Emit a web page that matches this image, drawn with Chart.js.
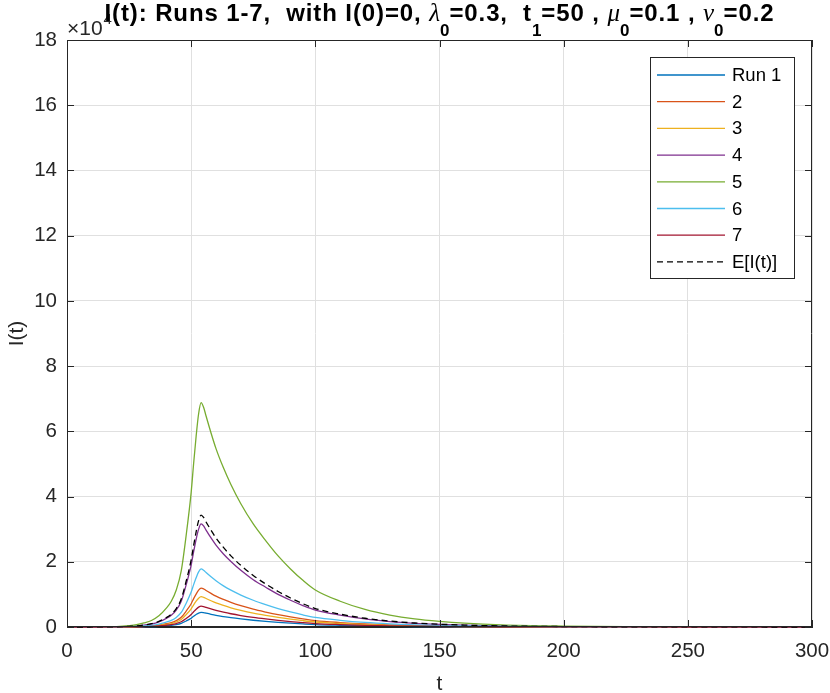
<!DOCTYPE html>
<html>
<head>
<meta charset="utf-8">
<script src="https://cdn.jsdelivr.net/npm/chart.js@4.4.1/dist/chart.umd.min.js"></script>
<style>
html,body{margin:0;padding:0;background:#fff;}
#wrap{width:830px;height:693px;position:relative;}
</style>
</head>
<body>
<div id="wrap"><canvas id="c" width="830" height="693"></canvas></div>
<script>
// ---- data (values in units of 10^4) ----
const tValues = [0,10,20,25,28,31,34,37,40,42,44,46,48,50,51,52,53,54,55,56,58,60,63,66,70,75,80,85,90,95,100,110,120,130,140,150,160,175,200,225,250,300];

const run1 = [0,0.0001,0.0009,0.0027,0.0045,0.0081,0.013,0.0225,0.038,0.052,0.074,0.113,0.185,0.27,0.329,0.383,0.428,0.45,0.441,0.423,0.389,0.358,0.32,0.286,0.248,0.207,0.173,0.143,0.117,0.094,0.074,0.052,0.035,0.024,0.016,0.011,0.0077,0.0043,0.0018,0.0007,0.0003,0];
const run2 = [0,0.0004,0.0024,0.007,0.012,0.021,0.035,0.06,0.1,0.137,0.196,0.298,0.488,0.714,0.87,1.01,1.13,1.19,1.17,1.12,1.03,0.946,0.845,0.756,0.655,0.547,0.458,0.377,0.308,0.248,0.196,0.137,0.093,0.063,0.043,0.03,0.02,0.011,0.0048,0.0018,0.0007,0.0001];
const run3 = [0,0.0003,0.0019,0.0056,0.0093,0.0167,0.027,0.0465,0.078,0.107,0.153,0.233,0.381,0.558,0.679,0.79,0.884,0.93,0.911,0.874,0.804,0.739,0.66,0.59,0.512,0.428,0.358,0.295,0.241,0.193,0.153,0.107,0.073,0.049,0.033,0.023,0.016,0.0088,0.0037,0.0014,0.0006,0.0001];
const run4 = [0,0.001,0.006,0.019,0.032,0.057,0.092,0.158,0.265,0.363,0.521,0.79,1.3,1.9,2.31,2.69,3.0,3.16,3.1,2.97,2.73,2.51,2.24,2.01,1.74,1.45,1.22,1.0,0.82,0.657,0.52,0.363,0.246,0.167,0.114,0.079,0.054,0.03,0.013,0.005,0.002,0.0003];
const run5 = [0,0.002,0.014,0.041,0.069,0.124,0.2,0.344,0.578,0.79,1.135,1.72,2.82,4.13,5.02,5.85,6.54,6.88,6.74,6.47,5.95,5.47,4.88,4.37,3.78,3.16,2.65,2.18,1.78,1.43,1.135,0.79,0.537,0.365,0.248,0.172,0.117,0.065,0.028,0.01,0.004,0.0007];
const run6 = [0,0.0005,0.0036,0.011,0.018,0.032,0.052,0.089,0.15,0.205,0.294,0.445,0.73,1.07,1.3,1.51,1.69,1.78,1.74,1.67,1.54,1.42,1.26,1.13,0.98,0.82,0.685,0.564,0.461,0.37,0.294,0.205,0.139,0.094,0.064,0.045,0.03,0.017,0.007,0.0027,0.001,0.0002];
const run7 = [0,0.0002,0.0013,0.0038,0.0064,0.0115,0.0186,0.032,0.054,0.074,0.106,0.16,0.262,0.384,0.467,0.544,0.608,0.64,0.627,0.602,0.554,0.509,0.454,0.406,0.352,0.294,0.246,0.203,0.166,0.133,0.106,0.074,0.05,0.034,0.023,0.016,0.011,0.006,0.0026,0.001,0.0004,0.0001];
const expected = [0,0.001,0.007,0.021,0.034,0.062,0.1,0.172,0.288,0.394,0.566,0.858,1.41,2.06,2.5,2.92,3.26,3.43,3.36,3.22,2.97,2.73,2.44,2.18,1.89,1.58,1.32,1.09,0.89,0.713,0.566,0.394,0.268,0.182,0.123,0.086,0.058,0.033,0.014,0.005,0.002,0.0003];

const seriesLabels = ['Run 1','2','3','4','5','6','7','E[I(t)]'];
const seriesColors = ['#0072BD','#D95319','#EDB120','#7E2F8E','#77AC30','#4DBEEE','#A2142F','#000000'];
const seriesValues = [run1,run2,run3,run4,run5,run6,run7,expected];

const xTicks = [0,50,100,150,200,250,300];
const yTicks = [0,2,4,6,8,10,12,14,16,18];

const AX = '#262626';
const FONT = '"Liberation Sans", Arial, Helvetica, sans-serif';

const datasets = seriesValues.map((vals, i) => ({
  label: seriesLabels[i],
  data: vals.map((v, k) => ({x: tValues[k], y: v})),
  borderColor: seriesColors[i],
  backgroundColor: seriesColors[i],
  borderWidth: 1.3,
  borderDash: i === 7 ? [6,4] : [],
  pointRadius: 0,
  cubicInterpolationMode: 'monotone',
  fill: false,
  clip: false,
  order: 8 - i
}));

const decorPlugin = {
  id: 'decor',
  afterDraw(chart) {
    const ctx = chart.ctx;
    const a = chart.chartArea;
    const xs = chart.scales.x, ys = chart.scales.y;
    ctx.save();
    // box
    ctx.strokeStyle = AX;
    ctx.lineWidth = 1;
    ctx.beginPath();
    ctx.moveTo(a.left, a.top + 0.5); ctx.lineTo(a.right, a.top + 0.5);
    ctx.moveTo(a.right - 0.5, a.top); ctx.lineTo(a.right - 0.5, a.bottom);
    ctx.moveTo(a.left + 0.5, a.top); ctx.lineTo(a.left + 0.5, a.bottom);
    ctx.moveTo(a.left, a.bottom - 0.5); ctx.lineTo(a.right, a.bottom - 0.5);
    ctx.stroke();
    // inward ticks
    ctx.beginPath();
    xTicks.forEach(v => {
      const px = Math.round(xs.getPixelForValue(v)) + 0.5;
      ctx.moveTo(px, a.bottom); ctx.lineTo(px, a.bottom - 7);
      ctx.moveTo(px, a.top); ctx.lineTo(px, a.top + 7);
    });
    yTicks.forEach(v => {
      const py = Math.round(ys.getPixelForValue(v)) + 0.5;
      ctx.moveTo(a.left, py); ctx.lineTo(a.left + 7, py);
      ctx.moveTo(a.right, py); ctx.lineTo(a.right - 7, py);
    });
    ctx.stroke();

    // exponent label
    ctx.fillStyle = AX;
    ctx.textBaseline = 'alphabetic';
    ctx.textAlign = 'left';
    ctx.font = '21px ' + FONT;
    ctx.fillText('\u00d710', 67, 35);
    const w10 = ctx.measureText('\u00d710').width;
    ctx.font = '15px ' + FONT;
    ctx.fillText('4', 67 + w10 + 1, 24);

    // axis titles
    ctx.font = '21px ' + FONT;
    ctx.textAlign = 'center';
    ctx.fillText('t', (a.left + a.right) / 2, 690);
    ctx.save();
    ctx.translate(23, (a.top + a.bottom) / 2);
    ctx.rotate(-Math.PI / 2);
    ctx.fillText('I(t)', 0, 0);
    ctx.restore();

    // title with subscripts
    const segs = [
      {t:'I(t): Runs 1-7,  with I(0)=0, '},
      {t:'\u03bb', it:true},{t:'0', sub:true},
      {t:'=0.3,  t'},{t:'1', sub:true},
      {t:'=50 , '},
      {t:'\u03bc', it:true},{t:'0', sub:true},
      {t:'=0.1 , '},
      {t:'\u03bd', it:true},{t:'0', sub:true},
      {t:'=0.2'}
    ];
    const fMain = 'bold 24px ' + FONT;
    const fIt = 'italic 25px "Liberation Serif", "DejaVu Serif", serif';
    const fSub = 'bold 17px ' + FONT;
    const fontOf = s => s.sub ? fSub : (s.it ? fIt : fMain);
    let total = 0;
    segs.forEach(s => { ctx.font = fontOf(s); s.w = ctx.measureText(s.t).width; total += s.w; });
    const nChars = segs.reduce((n, s) => n + (s.sub || s.it ? 0 : s.t.length), 0);
    const sp = Math.max(0, (670 - total) / nChars);
    total = 0;
    segs.forEach(s => { total += s.w + (s.sub || s.it ? 0 : sp * s.t.length); });
    let x = (a.left + a.right) / 2 - total / 2;
    ctx.textAlign = 'left';
    ctx.fillStyle = '#000';
    segs.forEach(s => {
      ctx.font = fontOf(s);
      if (s.sub || s.it) {
        ctx.fillText(s.t, x, s.sub ? 36 : 21);
        x += s.w;
      } else {
        for (const ch of s.t) {
          ctx.fillText(ch, x, 21);
          x += ctx.measureText(ch).width + sp;
        }
      }
    });

    // legend
    const lx = 650.5, ly = 57.5, lw = 144, lh = 221;
    ctx.fillStyle = '#ffffff';
    ctx.fillRect(lx, ly, lw, lh);
    ctx.strokeStyle = AX;
    ctx.lineWidth = 1;
    ctx.setLineDash([]);
    ctx.strokeRect(lx, ly, lw, lh);
    ctx.font = '18.5px ' + FONT;
    ctx.textBaseline = 'middle';
    chart.data.datasets.forEach((ds, i) => {
      const yy = 75 + i * 26.7;
      ctx.strokeStyle = ds.borderColor;
      ctx.lineWidth = 1.3;
      ctx.setLineDash(ds.borderDash || []);
      ctx.beginPath();
      ctx.moveTo(657, yy); ctx.lineTo(725, yy);
      ctx.stroke();
      ctx.setLineDash([]);
      ctx.fillStyle = '#000';
      ctx.fillText(ds.label, 732, yy + 1);
    });
    ctx.restore();
  }
};

new Chart(document.getElementById('c'), {
  type: 'line',
  data: { datasets },
  options: {
    responsive: false,
    animation: false,
    layout: { padding: { left: 0, right: 0, top: 40, bottom: 0 } },
    plugins: { legend: { display: false }, title: { display: false }, tooltip: { enabled: false } },
    scales: {
      x: {
        type: 'linear', min: 0, max: 300,
        afterBuildTicks: s => { s.ticks = xTicks.map(v => ({value: v})); },
        afterFit: s => { s.height = 66; s.paddingLeft = 0; s.paddingRight = 18; },
        ticks: { color: AX, font: { size: 20.5, family: FONT }, padding: 12, maxRotation: 0, autoSkip: false },
        grid: { color: '#e0e0e0', drawTicks: false, lineWidth: 1 },
        border: { display: true, color: AX }
      },
      y: {
        type: 'linear', min: 0, max: 18,
        afterBuildTicks: s => { s.ticks = yTicks.map(v => ({value: v})); },
        afterFit: s => { s.width = 67; s.paddingTop = 0; s.paddingBottom = 0; },
        ticks: { color: AX, font: { size: 20.5, family: FONT }, padding: 10, autoSkip: false },
        grid: { color: '#e0e0e0', drawTicks: false, lineWidth: 1 },
        border: { display: true, color: AX }
      }
    }
  },
  plugins: [decorPlugin]
});
</script>
</body>
</html>
